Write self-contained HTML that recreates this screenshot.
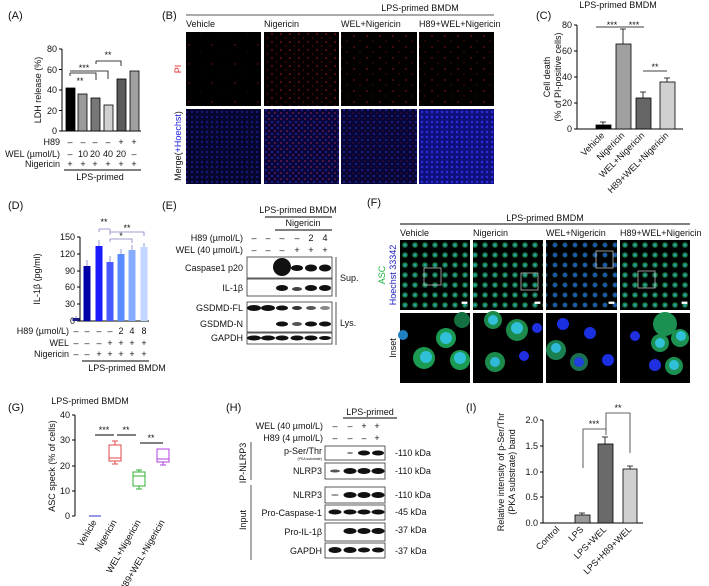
<!DOCTYPE html>
<html><head><meta charset="utf-8"><style>
html,body{margin:0;padding:0;background:#fff;}
svg{display:block;font-family:"Liberation Sans",Arial,sans-serif;}
text{fill:#111;}
</style></head><body>
<svg width="709" height="586" viewBox="0 0 709 586" xmlns="http://www.w3.org/2000/svg">
<defs>
<pattern id="piS" width="23" height="19" patternUnits="userSpaceOnUse"><rect width="23" height="19" fill="#000"/><circle cx="5" cy="7" r="0.7" fill="#801010"/><circle cx="17" cy="15" r="0.5" fill="#601010"/></pattern>
<pattern id="piD" width="9" height="8" patternUnits="userSpaceOnUse"><rect width="9" height="8" fill="#050000"/><circle cx="2" cy="2" r="0.8" fill="#b01818"/><circle cx="6.5" cy="6" r="0.6" fill="#801010"/></pattern>
<pattern id="piM" width="13" height="11" patternUnits="userSpaceOnUse"><rect width="13" height="11" fill="#030000"/><circle cx="3" cy="3" r="0.7" fill="#a01818"/><circle cx="9" cy="8" r="0.6" fill="#701010"/></pattern>
<pattern id="mgV" width="5" height="5" patternUnits="userSpaceOnUse"><rect width="5" height="5" fill="#06062e"/><circle cx="2" cy="2" r="1" fill="#1c1c9a"/></pattern>
<pattern id="mgN" width="6" height="6" patternUnits="userSpaceOnUse"><rect width="6" height="6" fill="#0a0638"/><circle cx="2" cy="2" r="1" fill="#2424b0"/><circle cx="5" cy="5" r="0.8" fill="#a02860"/></pattern>
<pattern id="mgW" width="6" height="6" patternUnits="userSpaceOnUse"><rect width="6" height="6" fill="#080634"/><circle cx="2" cy="2" r="1" fill="#2020a8"/><circle cx="5" cy="5" r="0.5" fill="#902050"/></pattern>
<pattern id="mgH" width="5" height="5" patternUnits="userSpaceOnUse"><rect width="5" height="5" fill="#10107a"/><circle cx="2" cy="2" r="1.2" fill="#2c2ce0"/></pattern>
<pattern id="asc" width="10" height="10" patternUnits="userSpaceOnUse"><rect width="10" height="10" fill="#000"/><circle cx="5" cy="5" r="2.8" fill="#187a40"/><circle cx="5" cy="5" r="1.3" fill="#28a0b0"/></pattern>
<pattern id="asc2" width="10" height="10" patternUnits="userSpaceOnUse"><rect width="10" height="10" fill="#000"/><circle cx="5" cy="5" r="2.5" fill="#155a70"/><circle cx="5" cy="5" r="1.5" fill="#2255c0"/></pattern>
</defs>

<!-- ===== Panel A ===== -->
<text x="8" y="19" font-size="11">(A)</text>
<g font-size="9">
<line x1="62" y1="49" x2="62" y2="131" stroke="#000"/>
<line x1="62" y1="131" x2="141" y2="131" stroke="#000"/>
<g stroke="#000"><line x1="59" y1="49" x2="62" y2="49"/><line x1="59" y1="69.5" x2="62" y2="69.5"/><line x1="59" y1="90" x2="62" y2="90"/><line x1="59" y1="110.5" x2="62" y2="110.5"/><line x1="59" y1="131" x2="62" y2="131"/></g>
<g text-anchor="end"><text x="57" y="52">80</text><text x="57" y="73">60</text><text x="57" y="93">40</text><text x="57" y="114">20</text><text x="57" y="134">0</text></g>
<text transform="translate(41,90) rotate(-90)" text-anchor="middle">LDH release (%)</text>
<g stroke="#000" stroke-width="0.8">
<rect x="66" y="88" width="9" height="43" fill="#000"/>
<rect x="78" y="94" width="9" height="37" fill="#9a9a9a"/>
<rect x="91" y="98" width="9" height="33" fill="#777"/>
<rect x="104" y="105" width="9" height="26" fill="#d0d0d0"/>
<rect x="117" y="79" width="9" height="52" fill="#5a5a5a"/>
<rect x="130" y="71" width="9" height="60" fill="#a0a0a0"/>
<path d="M70 73H96V80M70 73V76" fill="none"/>
<path d="M70 71H108V79" fill="none"/>
<path d="M96 61H121V66M96 61V64" fill="none"/>
</g>
<text x="80" y="84" font-size="9" text-anchor="middle">**</text>
<text x="84" y="71" font-size="9" text-anchor="middle">***</text>
<text x="108" y="58" font-size="9" text-anchor="middle">**</text>
<g text-anchor="end"><text x="60" y="145">H89</text><text x="60" y="157">WEL (µmol/L)</text><text x="60" y="167">Nigericin</text></g>
<g text-anchor="middle">
<text x="70" y="145">–</text><text x="83" y="145">–</text><text x="95" y="145">–</text><text x="108" y="145">–</text><text x="121" y="145">+</text><text x="134" y="145">+</text>
<text x="70" y="157">–</text><text x="83" y="157">10</text><text x="95" y="157">20</text><text x="108" y="157">40</text><text x="121" y="157">20</text><text x="134" y="157">–</text>
<text x="70" y="167">+</text><text x="83" y="167">+</text><text x="95" y="167">+</text><text x="108" y="167">+</text><text x="121" y="167">+</text><text x="134" y="167">+</text>
</g>
<line x1="64" y1="170" x2="141" y2="170" stroke="#000"/>
<text x="100" y="180" text-anchor="middle">LPS-primed</text>
</g>

<!-- ===== Panel B ===== -->
<text x="162" y="19" font-size="11">(B)</text>
<g font-size="9">
<text x="420" y="11" text-anchor="middle">LPS-primed BMDM</text>
<line x1="186" y1="15" x2="494" y2="15" stroke="#555"/>
<text x="186" y="27">Vehicle</text><text x="264" y="27">Nigericin</text><text x="341" y="27">WEL+Nigericin</text><text x="419" y="27">H89+WEL+Nigericin</text>
<rect x="186" y="32" width="75" height="74" fill="url(#piS)"/>
<rect x="264" y="32" width="75" height="74" fill="url(#piD)"/>
<rect x="341" y="32" width="76" height="74" fill="url(#piM)"/>
<rect x="419" y="32" width="75" height="74" fill="url(#piM)"/>
<rect x="186" y="109" width="75" height="75" fill="url(#mgV)"/>
<rect x="264" y="109" width="75" height="75" fill="url(#mgN)"/>
<rect x="341" y="109" width="76" height="75" fill="url(#mgW)"/>
<rect x="419" y="109" width="75" height="75" fill="url(#mgH)"/>
<text transform="translate(181,69) rotate(-90)" text-anchor="middle" style="fill:#e02020">PI</text>
<text transform="translate(181,146) rotate(-90)" text-anchor="middle">Merge(<tspan style="fill:#2020e0">+Hoechst</tspan>)</text>
</g>

<!-- ===== Panel C ===== -->
<text x="536" y="19" font-size="11">(C)</text>
<g font-size="9">
<text x="618" y="8" text-anchor="middle">LPS-primed BMDM</text>
<line x1="577" y1="25" x2="577" y2="129" stroke="#000"/>
<line x1="577" y1="129" x2="683" y2="129" stroke="#000"/>
<g stroke="#000"><line x1="574" y1="25" x2="577" y2="25"/><line x1="574" y1="51" x2="577" y2="51"/><line x1="574" y1="77" x2="577" y2="77"/><line x1="574" y1="103" x2="577" y2="103"/><line x1="574" y1="129" x2="577" y2="129"/></g>
<g text-anchor="end"><text x="572" y="28">80</text><text x="572" y="54">60</text><text x="572" y="80">40</text><text x="572" y="106">20</text><text x="572" y="132">0</text></g>
<text transform="translate(550,77) rotate(-90)" text-anchor="middle">Cell death</text>
<text transform="translate(561,77) rotate(-90)" text-anchor="middle">(% of PI-positive cells)</text>
<g stroke="#000" stroke-width="0.8">
<rect x="596" y="125" width="15" height="4" fill="#000"/>
<rect x="616" y="44" width="15" height="85" fill="#a0a0a0"/>
<rect x="636" y="98" width="15" height="31" fill="#666"/>
<rect x="660" y="82" width="15" height="47" fill="#d0d0d0"/>
<path d="M603 125V122M600 122H606M623 44V29M620 29H626M643 98V92M640 92H646M667 82V78M664 78H670" fill="none"/>
<path d="M596 27H622M622 27H644M643 71H667" fill="none"/>
</g>
<text x="612" y="28" text-anchor="middle">***</text><text x="634" y="28" text-anchor="middle">***</text><text x="655" y="70" text-anchor="middle">**</text>
<g text-anchor="end">
<text transform="translate(605,136) rotate(-45)">Vehicle</text>
<text transform="translate(625,136) rotate(-45)">Nigericin</text>
<text transform="translate(645,136) rotate(-45)">WEL+Nigericin</text>
<text transform="translate(669,136) rotate(-45)">H89+WEL+Nigericin</text>
</g>
</g>

<!-- ===== Panel D ===== -->
<text x="8" y="209" font-size="11">(D)</text>
<g font-size="9">
<line x1="80" y1="237" x2="80" y2="321" stroke="#000"/>
<line x1="80" y1="321" x2="149" y2="321" stroke="#000"/>
<g stroke="#000"><line x1="77" y1="237" x2="80" y2="237"/><line x1="77" y1="254" x2="80" y2="254"/><line x1="77" y1="271" x2="80" y2="271"/><line x1="77" y1="287" x2="80" y2="287"/><line x1="77" y1="304" x2="80" y2="304"/><line x1="77" y1="321" x2="80" y2="321"/></g>
<g text-anchor="end"><text x="75" y="240">150</text><text x="75" y="257">120</text><text x="75" y="274">90</text><text x="75" y="290">60</text><text x="75" y="307">30</text><text x="75" y="324">0</text></g>
<text transform="translate(40,279) rotate(-90)" text-anchor="middle">IL-1β (pg/ml)</text>
<rect x="72.5" y="318" width="7" height="3" fill="#1b1b80"/>
<rect x="83.5" y="266" width="7" height="55" fill="#0000a8"/>
<rect x="95.5" y="246" width="7" height="75" fill="#1a1aff"/>
<rect x="106.5" y="262" width="7" height="59" fill="#4a58ff"/>
<rect x="117.5" y="254" width="7" height="67" fill="#5a8cff"/>
<rect x="128.5" y="250" width="7" height="71" fill="#86acff"/>
<rect x="140.5" y="247" width="7" height="74" fill="#c2d6ff"/>
<g stroke="#8080c0" stroke-width="0.8" fill="none">
<path d="M76 318V316M87 266V260M99 246V240M110 262V256M121 254V249M132 250V245M144 247V243"/>
<path d="M99 229H110M99 229V232M110 229V232M110 232H144V236M110 232V235M110 239H132V243M110 239V242"/>
</g>
<text x="104" y="225" text-anchor="middle">**</text><text x="127" y="231" text-anchor="middle">**</text><text x="121" y="239" text-anchor="middle">*</text>
<g text-anchor="end"><text x="69" y="334">H89 (µmol/L)</text><text x="69" y="346">WEL</text><text x="69" y="357">Nigericin</text></g>
<g text-anchor="middle">
<text x="76" y="334">–</text><text x="87" y="334">–</text><text x="99" y="334">–</text><text x="110" y="334">–</text><text x="121" y="334">2</text><text x="132" y="334">4</text><text x="144" y="334">8</text>
<text x="76" y="346">–</text><text x="87" y="346">–</text><text x="99" y="346">–</text><text x="110" y="346">+</text><text x="121" y="346">+</text><text x="132" y="346">+</text><text x="144" y="346">+</text>
<text x="76" y="357">–</text><text x="87" y="357">–</text><text x="99" y="357">+</text><text x="110" y="357">+</text><text x="121" y="357">+</text><text x="132" y="357">+</text><text x="144" y="357">+</text>
</g>
<line x1="82" y1="361" x2="149" y2="361" stroke="#000"/>
<text x="127" y="371" text-anchor="middle">LPS-primed BMDM</text>
</g>

<!-- ===== Panel E ===== -->
<text x="162" y="209" font-size="11">(E)</text>
<g font-size="9">
<text x="298" y="213" text-anchor="middle">LPS-primed BMDM</text>
<line x1="265" y1="217" x2="332" y2="217" stroke="#000"/>
<text x="303" y="226" text-anchor="middle">Nigericin</text>
<line x1="275" y1="230" x2="332" y2="230" stroke="#000"/>
<g text-anchor="end"><text x="243" y="241">H89 (µmol/L)</text><text x="243" y="253">WEL (40 µmol/L)</text></g>
<g text-anchor="middle">
<text x="254" y="241">–</text><text x="268" y="241">–</text><text x="282" y="241">–</text><text x="297" y="241">–</text><text x="311" y="241">2</text><text x="325" y="241">4</text>
<text x="254" y="253">–</text><text x="268" y="253">–</text><text x="282" y="253">–</text><text x="297" y="253">+</text><text x="311" y="253">+</text><text x="325" y="253">+</text>
</g>
<g fill="#fff" stroke="#333" stroke-width="0.8">
<rect x="247" y="257" width="85" height="21"/><rect x="247" y="279" width="85" height="17"/>
<rect x="247" y="302" width="85" height="30"/><rect x="247" y="333" width="85" height="11"/>
</g>
<g fill="#111">
<ellipse cx="282" cy="267" rx="9" ry="9"/>
<ellipse cx="297" cy="268" rx="6" ry="3"/><ellipse cx="311" cy="268" rx="6" ry="3.5"/><ellipse cx="325" cy="268" rx="6" ry="3.5"/>
<ellipse cx="282" cy="288" rx="6" ry="3"/><ellipse cx="297" cy="289" rx="5" ry="2" fill="#444"/><ellipse cx="311" cy="288" rx="6" ry="3"/><ellipse cx="325" cy="288" rx="6" ry="3"/>
<ellipse cx="254" cy="308" rx="7" ry="3"/><ellipse cx="268" cy="308" rx="7" ry="3"/><ellipse cx="282" cy="308" rx="6" ry="2.5"/><ellipse cx="297" cy="308" rx="5" ry="2" fill="#333"/><ellipse cx="311" cy="308" rx="5" ry="2" fill="#555"/><ellipse cx="325" cy="308" rx="5" ry="2" fill="#888"/>
<ellipse cx="282" cy="324" rx="6" ry="2.5"/><ellipse cx="297" cy="324" rx="5" ry="2" fill="#555"/><ellipse cx="311" cy="324" rx="6" ry="2.5"/><ellipse cx="325" cy="324" rx="6" ry="2.5"/>
<ellipse cx="254" cy="338" rx="7" ry="2.5"/><ellipse cx="268" cy="338" rx="7" ry="2.5"/><ellipse cx="282" cy="338" rx="6.5" ry="2.5"/><ellipse cx="297" cy="338" rx="6.5" ry="2.5"/><ellipse cx="311" cy="338" rx="6.5" ry="2.5"/><ellipse cx="325" cy="338" rx="6" ry="2"/>
</g>
<g text-anchor="end"><text x="243" y="271">Caspase1 p20</text><text x="243" y="291">IL-1β</text><text x="243" y="311">GSDMD-FL</text><text x="243" y="327">GSDMD-N</text><text x="243" y="341">GAPDH</text></g>
<line x1="336" y1="257" x2="336" y2="297" stroke="#555"/>
<line x1="336" y1="302" x2="336" y2="345" stroke="#555"/>
<text x="340" y="281">Sup.</text><text x="340" y="326">Lys.</text>
</g>

<!-- ===== Panel F ===== -->
<text x="367" y="206" font-size="11">(F)</text>
<g font-size="9">
<text x="545" y="221" text-anchor="middle">LPS-primed BMDM</text>
<line x1="400" y1="224" x2="690" y2="224" stroke="#000"/>
<text x="400" y="236">Vehicle</text><text x="473" y="236">Nigericin</text><text x="546" y="236">WEL+Nigericin</text><text x="620" y="236">H89+WEL+Nigericin</text>
<rect x="400" y="240" width="70" height="70" fill="url(#asc)"/>
<rect x="473" y="240" width="70" height="70" fill="url(#asc)"/>
<rect x="546" y="240" width="71" height="70" fill="url(#asc2)"/>
<rect x="620" y="240" width="70" height="70" fill="url(#asc)"/>
<g fill="none" stroke="#bbb" stroke-width="0.8"><rect x="424" y="268" width="17" height="17"/><rect x="521" y="273" width="17" height="17"/><rect x="596" y="251" width="17" height="17"/><rect x="638" y="271" width="17" height="17"/></g>
<g fill="#000"><rect x="400" y="313" width="70" height="70"/><rect x="473" y="313" width="70" height="70"/><rect x="546" y="313" width="71" height="70"/><rect x="620" y="313" width="70" height="70"/></g>
<g>
<circle cx="446" cy="338" r="10" fill="#1b9a52"/><circle cx="446" cy="338" r="6" fill="#30c0d8"/>
<circle cx="424" cy="358" r="11" fill="#1b9a52"/><circle cx="426" cy="357" r="6" fill="#30c0d8"/>
<circle cx="460" cy="360" r="10" fill="#1b9a52"/><circle cx="460" cy="358" r="6" fill="#30c0d8"/>
<circle cx="462" cy="320" r="8" fill="#147040"/><circle cx="403" cy="335" r="5" fill="#2080c0"/>
<circle cx="493" cy="320" r="9" fill="#1b8a4a"/><circle cx="493" cy="320" r="5" fill="#30c0d8"/>
<circle cx="517" cy="330" r="11" fill="#1b8a4a"/><circle cx="517" cy="328" r="6" fill="#30c0d8"/>
<circle cx="495" cy="362" r="10" fill="#1b8a4a"/><circle cx="495" cy="362" r="5" fill="#30b8d8"/>
<circle cx="537" cy="328" r="5" fill="#2030e0"/><circle cx="524" cy="356" r="5" fill="#2030e0"/>
<circle cx="556" cy="350" r="10" fill="#1a8050"/><circle cx="556" cy="348" r="5" fill="#30b8d8"/>
<circle cx="579" cy="362" r="9" fill="#1a7050"/><circle cx="579" cy="362" r="5" fill="#2040e0"/>
<circle cx="590" cy="333" r="6" fill="#1a30e0"/><circle cx="563" cy="324" r="6" fill="#1a30e0"/><circle cx="608" cy="360" r="6" fill="#1a30e0"/>
<circle cx="665" cy="324" r="12" fill="#1b9050"/><circle cx="680" cy="338" r="9" fill="#1b9050"/><circle cx="681" cy="336" r="5" fill="#30c0d8"/>
<circle cx="660" cy="343" r="9" fill="#1b9050"/><circle cx="660" cy="343" r="5" fill="#30c0d8"/>
<circle cx="635" cy="336" r="5" fill="#2030e0"/><circle cx="655" cy="365" r="6" fill="#2030e0"/><circle cx="674" cy="366" r="9" fill="#1b9050"/><circle cx="674" cy="365" r="5" fill="#30c0d8"/>
</g>
<g fill="#fff" stroke="#fff" stroke-width="0.8"><rect x="462" y="302" width="5" height="1.5"/><rect x="535" y="302" width="5" height="1.5"/><rect x="609" y="302" width="5" height="1.5"/><rect x="682" y="302" width="5" height="1.5"/></g>
<text transform="translate(385,275) rotate(-90)" text-anchor="middle"><tspan style="fill:#20b040">ASC</tspan></text>
<text transform="translate(396,275) rotate(-90)" text-anchor="middle" style="fill:#2020c0">Hoechst 33342</text>
<text transform="translate(396,348) rotate(-90)" text-anchor="middle">Inset</text>
</g>

<!-- ===== Panel G ===== -->
<text x="8" y="411" font-size="11">(G)</text>
<g font-size="9">
<text x="90" y="404" text-anchor="middle">LPS-primed BMDM</text>
<line x1="75" y1="415" x2="75" y2="516" stroke="#000"/>
<g stroke="#000"><line x1="72" y1="415" x2="75" y2="415"/><line x1="72" y1="440" x2="75" y2="440"/><line x1="72" y1="466" x2="75" y2="466"/><line x1="72" y1="491" x2="75" y2="491"/><line x1="72" y1="516" x2="75" y2="516"/></g>
<g text-anchor="end"><text x="70" y="418">40</text><text x="70" y="443">30</text><text x="70" y="469">20</text><text x="70" y="494">10</text><text x="70" y="519">0</text></g>
<text transform="translate(55,466) rotate(-90)" text-anchor="middle">ASC speck (% of cells)</text>
<g fill="none" stroke-width="1">
<path d="M89 516H101" stroke="#3030d0"/>
<g stroke="#e04848"><rect x="109" y="445" width="12" height="16"/><path d="M109 458H121M115 441V445M115 461V464M112 441H118M112 464H118"/></g>
<g stroke="#30b030"><rect x="133" y="472" width="12" height="14"/><path d="M133 476H145M139 470V472M139 486V489M136 470H142M136 489H142"/></g>
<g stroke="#b040e0"><rect x="157" y="449" width="12" height="13"/><path d="M157 459H169M163 462V465M160 465H166"/></g>
<path d="M95 435H114M117 435H136M140 443H163" stroke="#000"/>
</g>
<text x="104" y="433" text-anchor="middle">***</text><text x="126" y="433" text-anchor="middle">**</text><text x="151" y="441" text-anchor="middle">**</text>
<g text-anchor="end">
<text transform="translate(97,522) rotate(-60)">Vehicle</text>
<text transform="translate(117,522) rotate(-60)">Nigericin</text>
<text transform="translate(141,522) rotate(-60)">WEL+Nigericin</text>
<text transform="translate(165,522) rotate(-60)">H89+WEL+Nigericin</text>
</g>
</g>

<!-- ===== Panel H ===== -->
<text x="226" y="411" font-size="11">(H)</text>
<g font-size="9">
<text x="370" y="415" text-anchor="middle">LPS-primed</text>
<line x1="343" y1="418" x2="397" y2="418" stroke="#000"/>
<g text-anchor="end"><text x="323" y="429">WEL (40 µmol/L)</text><text x="323" y="441">H89 (4 µmol/L)</text></g>
<g text-anchor="middle">
<text x="335" y="429">–</text><text x="350" y="429">–</text><text x="364" y="429">+</text><text x="377" y="429">+</text>
<text x="335" y="441">–</text><text x="350" y="441">–</text><text x="364" y="441">–</text><text x="377" y="441">+</text>
</g>
<g fill="#fff" stroke="#333" stroke-width="0.8">
<rect x="325" y="446" width="60" height="14"/><rect x="325" y="463" width="60" height="16"/>
<rect x="325" y="487" width="60" height="16"/><rect x="325" y="505" width="60" height="15"/>
<rect x="325" y="523" width="60" height="18"/><rect x="325" y="543" width="60" height="15"/>
</g>
<g fill="#111">
<ellipse cx="350" cy="453" rx="3" ry="1" fill="#888"/><ellipse cx="364" cy="453" rx="6" ry="2.5"/><ellipse cx="378" cy="453" rx="6" ry="2.5"/>
<ellipse cx="335" cy="471" rx="5" ry="1.5" fill="#555"/><ellipse cx="350" cy="471" rx="6.5" ry="3"/><ellipse cx="364" cy="471" rx="6.5" ry="3"/><ellipse cx="378" cy="471" rx="6.5" ry="3"/>
<ellipse cx="335" cy="495" rx="4" ry="1" fill="#999"/><ellipse cx="350" cy="495" rx="6.5" ry="3"/><ellipse cx="364" cy="495" rx="6.5" ry="3"/><ellipse cx="378" cy="495" rx="6.5" ry="3"/>
<ellipse cx="335" cy="512" rx="6.5" ry="2.5"/><ellipse cx="350" cy="512" rx="6.5" ry="2.5"/><ellipse cx="364" cy="512" rx="6.5" ry="2.5"/><ellipse cx="378" cy="512" rx="6.5" ry="2.5"/>
<ellipse cx="350" cy="531" rx="6.5" ry="3"/><ellipse cx="364" cy="531" rx="6.5" ry="3"/><ellipse cx="378" cy="531" rx="6.5" ry="3"/>
<ellipse cx="335" cy="550" rx="6.5" ry="3"/><ellipse cx="350" cy="550" rx="6.5" ry="3"/><ellipse cx="364" cy="550" rx="6" ry="2.5"/><ellipse cx="378" cy="550" rx="6" ry="2.5"/>
</g>
<g text-anchor="end"><text x="322" y="454">p-Ser/Thr</text><text x="322" y="460" font-size="3.5">(PKA substrate)</text><text x="322" y="474">NLRP3</text><text x="322" y="498">NLRP3</text><text x="322" y="516">Pro-Caspase-1</text><text x="322" y="535">Pro-IL-1β</text><text x="322" y="554">GAPDH</text></g>
<g><text x="395" y="456">-110 kDa</text><text x="395" y="474">-110 kDa</text><text x="395" y="498">-110 kDa</text><text x="395" y="515">-45 kDa</text><text x="395" y="533">-37 kDa</text><text x="395" y="554">-37 kDa</text></g>
<line x1="251" y1="442" x2="251" y2="480" stroke="#555"/><line x1="251" y1="485" x2="251" y2="560" stroke="#555"/>
<text transform="translate(246,463) rotate(-90)" text-anchor="middle">IP-NLRP3</text>
<text transform="translate(246,520) rotate(-90)" text-anchor="middle">Input</text>
</g>

<!-- ===== Panel I ===== -->
<text x="466" y="411" font-size="11">(I)</text>
<g font-size="9">
<line x1="543" y1="420" x2="543" y2="523" stroke="#000"/>
<line x1="543" y1="523" x2="643" y2="523" stroke="#000"/>
<g stroke="#000"><line x1="540" y1="420" x2="543" y2="420"/><line x1="540" y1="446" x2="543" y2="446"/><line x1="540" y1="472" x2="543" y2="472"/><line x1="540" y1="497" x2="543" y2="497"/><line x1="540" y1="523" x2="543" y2="523"/></g>
<g text-anchor="end"><text x="538" y="423">2.0</text><text x="538" y="449">1.5</text><text x="538" y="475">1.0</text><text x="538" y="500">0.5</text><text x="538" y="526">0.0</text></g>
<text transform="translate(504,472) rotate(-90)" text-anchor="middle">Relative intensity of p-Ser/Thr</text>
<text transform="translate(515,472) rotate(-90)" text-anchor="middle">(PKA substrate) band</text>
<g stroke="#000" stroke-width="0.8">
<rect x="575" y="515" width="15" height="8" fill="#9a9a9a"/>
<rect x="598" y="444" width="15" height="79" fill="#6a6a6a"/>
<rect x="623" y="469" width="14" height="54" fill="#d0d0d0"/>
<path d="M582 515V513M579 513H585M605 444V437M602 437H608M630 469V466M627 466H633" fill="none"/>
</g>
<g fill="none" stroke="#333" stroke-width="0.8"><path d="M583 468V429H606V435"/><path d="M606 429V413H630V453"/></g>
<text x="594" y="427" text-anchor="middle">***</text><text x="618" y="411" text-anchor="middle">**</text>
<g text-anchor="end">
<text transform="translate(560,530) rotate(-45)">Control</text>
<text transform="translate(584,530) rotate(-45)">LPS</text>
<text transform="translate(607,530) rotate(-45)">LPS+WEL</text>
<text transform="translate(632,530) rotate(-45)">LPS+H89+WEL</text>
</g>
</g>
</svg>
</body></html>
